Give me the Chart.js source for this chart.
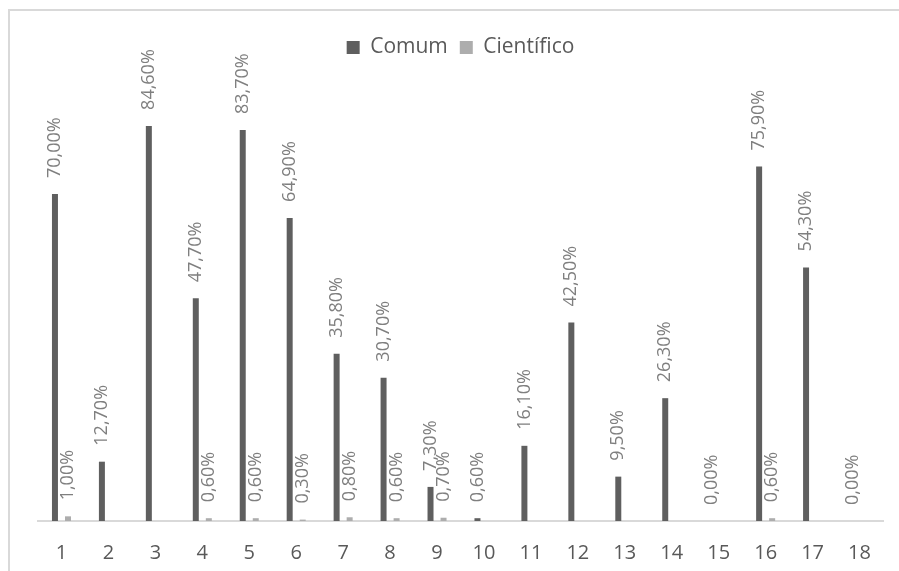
<!DOCTYPE html>
<html>
<head>
<meta charset="utf-8">
<script src="https://cdn.jsdelivr.net/npm/chart.js@4.4.0/dist/chart.umd.min.js"></script>
<style>
  html, body { margin: 0; padding: 0; background: #fff; overflow: hidden; }
  #frame {
    position: absolute; left: 8px; top: 9px;
    width: 910px; height: 570px;
    border: 2px solid #d9d9d9;
  }
  canvas { display: block; }
</style>
</head>
<body>
<div id="frame"><canvas id="chart" width="910" height="570"></canvas></div>
<script>
// categorias e percentagens por tipo de nome
const categorias = ['1','2','3','4','5','6','7','8','9','10','11','12','13','14','15','16','17','18'];
const comum = [70.0, 12.7, 84.6, 47.7, 83.7, 64.9, 35.8, 30.7, 7.3, 0.6, 16.1, 42.5, 9.5, 26.3, 0.0, 75.9, 54.3, 0.0];
const cientifico = [1.0, null, null, 0.6, 0.6, 0.3, 0.8, 0.6, 0.7, null, null, null, null, null, null, 0.6, null, null];

const FONTE = '"Open Sans", "Noto Sans", sans-serif';

function fmt(v) {
  return v.toFixed(2).replace('.', ',') + '%';
}

// rótulos verticais por cima de cada barra
const rotulos = {
  id: 'rotulos',
  afterDatasetsDraw(chart) {
    const ctx = chart.ctx;
    ctx.save();
    ctx.font = '18px ' + FONTE;
    ctx.fillStyle = '#7f7f7f';
    ctx.textAlign = 'left';
    ctx.textBaseline = 'middle';
    chart.data.datasets.forEach((ds, i) => {
      const meta = chart.getDatasetMeta(i);
      meta.data.forEach((bar, j) => {
        const v = ds.data[j];
        if (v === null || v === undefined) return;
        ctx.save();
        ctx.translate(bar.x, bar.y - 16);
        ctx.rotate(-Math.PI / 2);
        ctx.fillText(fmt(v), 0, 0);
        ctx.restore();
      });
    });
    ctx.restore();
  }
};

new Chart(document.getElementById('chart'), {
  type: 'bar',
  data: {
    labels: categorias,
    datasets: [
      { label: 'Comum', data: comum, backgroundColor: '#5f5f5f' },
      { label: 'Científico', data: cientifico, backgroundColor: '#adadad' }
    ]
  },
  options: {
    responsive: false,
    animation: false,
    categoryPercentage: 0.555,
    barPercentage: 0.46,
    layout: { padding: { left: 28, right: 37, top: 14, bottom: 4 } },
    plugins: {
      legend: {
        position: 'top',
        labels: {
          boxWidth: 13,
          boxHeight: 13,
          padding: 12,
          color: '#595959',
          font: { family: FONTE, size: 21 }
        }
      },
      tooltip: { enabled: false }
    },
    scales: {
      x: {
        grid: { display: false },
        border: { display: true, color: '#d9d9d9', width: 2 },
        ticks: {
          color: '#595959',
          padding: 12,
          font: { family: FONTE, size: 20 }
        }
      },
      y: {
        display: false,
        min: 0,
        max: 97
      }
    }
  },
  plugins: [rotulos]
});
</script>
</body>
</html>
